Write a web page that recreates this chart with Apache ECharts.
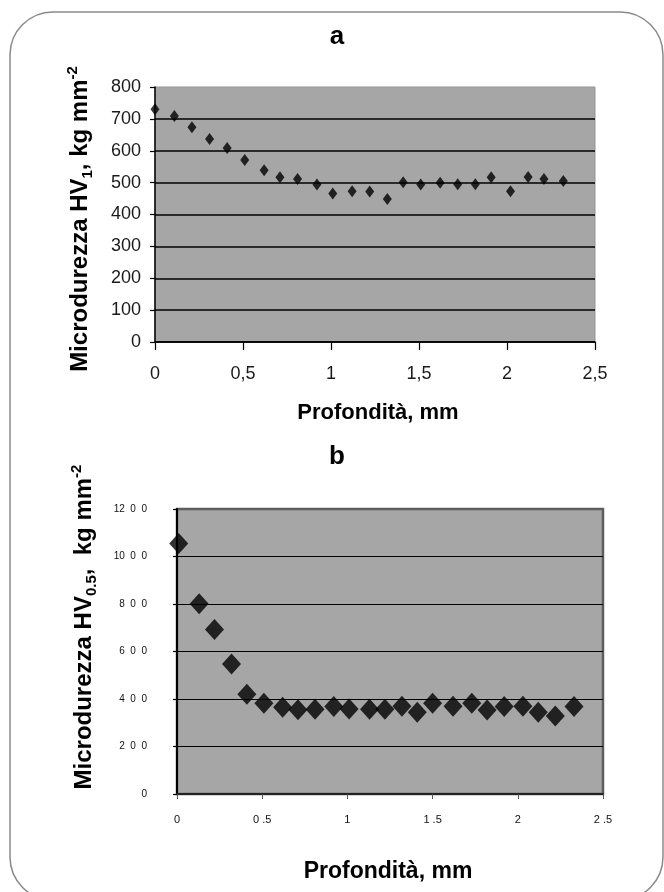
<!DOCTYPE html>
<html>
<head>
<meta charset="utf-8">
<script src="https://cdn.jsdelivr.net/npm/echarts@6/dist/echarts.min.js"></script>
<style>
html,body{margin:0;padding:0;background:#fff;}
#chart{width:664px;height:892px;}
</style>
</head>
<body>
<div id="chart"></div>
<script>
// Chart a: HV1
const depthA = [0, 0.11, 0.21, 0.31, 0.41, 0.51, 0.62, 0.71, 0.81, 0.92, 1.01, 1.12, 1.22, 1.32, 1.41, 1.51, 1.62, 1.72, 1.82, 1.91, 2.02, 2.12, 2.21, 2.32];
const hvA = [730, 709, 674, 637, 609, 571, 539, 517, 511, 494, 466, 473, 472, 449, 501, 494, 500, 495, 495, 517, 473, 518, 511, 505];
// Chart b: HV0.5
const depthB = [0.01, 0.13, 0.22, 0.32, 0.41, 0.51, 0.62, 0.71, 0.81, 0.92, 1.01, 1.13, 1.22, 1.32, 1.41, 1.50, 1.62, 1.73, 1.82, 1.92, 2.03, 2.12, 2.22, 2.33];
const hvB = [1055, 801, 693, 547, 420, 382, 365, 355, 357, 368, 358, 357, 357, 370, 344, 382, 369, 382, 354, 368, 369, 344, 328, 368];

const titleA = 'a';
const titleB = 'b';
const xName = 'Profondità, mm';

const pairs = (xs, ys) => xs.map((x, i) => [x, ys[i]]);
const sans = "'Liberation Sans', Arial, sans-serif";

const chart = echarts.init(document.getElementById('chart'), null, {renderer: 'canvas'});

const ytitleRich = {
  a: {fontSize: 24, fontWeight: 'bold', fontFamily: sans, color: '#000', lineHeight: 30},
  s: {fontSize: 15, fontWeight: 'bold', fontFamily: sans, color: '#000', lineHeight: 15, verticalAlign: 'bottom'},
  p: {fontSize: 15, fontWeight: 'bold', fontFamily: sans, color: '#000', lineHeight: 15, verticalAlign: 'top'}
};

chart.setOption({
  backgroundColor: '#ffffff',
  animation: false,
  grid: [
    {left: 155, top: 87, right: 69, bottom: 550, show: true, backgroundColor: '#a6a6a6', borderColor: '#959595', borderWidth: 1, outerBoundsMode: 'none', containLabel: false},
    {left: 177, top: 509, right: 61, bottom: 98, show: true, backgroundColor: '#a6a6a6', borderColor: '#5e5e5e', borderWidth: 2.5, outerBoundsMode: 'none', containLabel: false}
  ],
  xAxis: [
    {
      gridIndex: 0, type: 'value', min: 0, max: 2.5, interval: 0.5,
      axisLine: {show: true, onZero: false, lineStyle: {color: '#000', width: 1.5}},
      axisTick: {show: true, inside: false, length: 8, lineStyle: {color: '#000', width: 1.2}},
      splitLine: {show: false},
      axisLabel: {margin: 23, fontSize: 18, fontFamily: sans, color: '#1a1a1a',
        formatter: v => String(v).replace('.', ',')}
    },
    {
      gridIndex: 1, type: 'value', min: 0, max: 2.5, interval: 0.5,
      axisLine: {show: true, onZero: false, lineStyle: {color: '#222', width: 2}},
      axisTick: {show: true, inside: false, length: 5, lineStyle: {color: '#555', width: 1}},
      splitLine: {show: false},
      axisLabel: {margin: 20, fontSize: 11, fontFamily: sans, color: '#111',
        formatter: v => String(v).replace('.', ' .')}
    }
  ],
  yAxis: [
    {
      gridIndex: 0, type: 'value', min: 0, max: 800, interval: 100,
      axisLine: {show: true, onZero: false, lineStyle: {color: '#000', width: 1.5}},
      axisTick: {show: true, inside: false, length: 5, lineStyle: {color: '#000', width: 1.2}},
      splitLine: {show: true, showMaxLine: false, lineStyle: {color: '#000', width: 1.5}},
      axisLabel: {margin: 14, fontSize: 18, fontFamily: sans, color: '#1a1a1a'}
    },
    {
      gridIndex: 1, type: 'value', min: 0, max: 1200, interval: 200,
      axisLine: {show: true, onZero: false, lineStyle: {color: '#000', width: 2}},
      axisTick: {show: true, inside: false, length: 4, lineStyle: {color: '#000', width: 1.2}},
      splitLine: {show: true, showMaxLine: false, lineStyle: {color: '#000', width: 1.2}},
      axisLabel: {margin: 30, fontSize: 10, fontFamily: sans, color: '#111',
        padding: [0, 0, 12, 0],
        formatter: v => {
          const s = String(v);
          if (s.length < 3) return s;
          return s.slice(0, s.length - 2) + '  ' + s[s.length - 2] + '  ' + s[s.length - 1];
        }}
    }
  ],
  series: [
    {type: 'scatter', xAxisIndex: 0, yAxisIndex: 0, data: pairs(depthA, hvA),
      symbol: 'diamond', symbolSize: [9, 12], itemStyle: {color: '#000'}},
    {type: 'scatter', xAxisIndex: 1, yAxisIndex: 1, data: pairs(depthB, hvB),
      symbol: 'diamond', symbolSize: [19, 21], itemStyle: {color: '#000'}}
  ],
  graphic: [
    {type: 'rect', z: -10, silent: true,
      shape: {x: 10, y: 12, width: 653, height: 888, r: 43},
      style: {fill: 'none', stroke: '#8a8a8a', lineWidth: 1.5}},
    {type: 'text', x: 337, y: 50, style: {text: titleA, fontSize: 26, fontWeight: 'bold', fontFamily: sans, fill: '#000', textAlign: 'center', textVerticalAlign: 'bottom'}},
    {type: 'text', x: 337, y: 470, style: {text: titleB, fontSize: 26, fontWeight: 'bold', fontFamily: sans, fill: '#000', textAlign: 'center', textVerticalAlign: 'bottom'}},
    {type: 'text', x: 378, y: 413, style: {text: xName, fontSize: 22, fontWeight: 'bold', fontFamily: sans, fill: '#000', textAlign: 'center', textVerticalAlign: 'middle'}},
    {type: 'text', x: 388, y: 872, style: {text: xName, fontSize: 23, fontWeight: 'bold', fontFamily: sans, fill: '#000', textAlign: 'center', textVerticalAlign: 'middle'}},
    {type: 'text', x: 80, y: 219, rotation: Math.PI / 2,
      style: {text: '{a|Microdurezza HV}{s|1}{a|, kg mm}{p|-2}', rich: ytitleRich, textAlign: 'center', textVerticalAlign: 'middle'}},
    {type: 'text', x: 84, y: 627, rotation: Math.PI / 2,
      style: {text: '{a|Microdurezza HV}{s|0.5}{a|,  kg mm}{p|-2}', rich: ytitleRich, textAlign: 'center', textVerticalAlign: 'middle'}}
  ]
});
</script>
</body>
</html>
